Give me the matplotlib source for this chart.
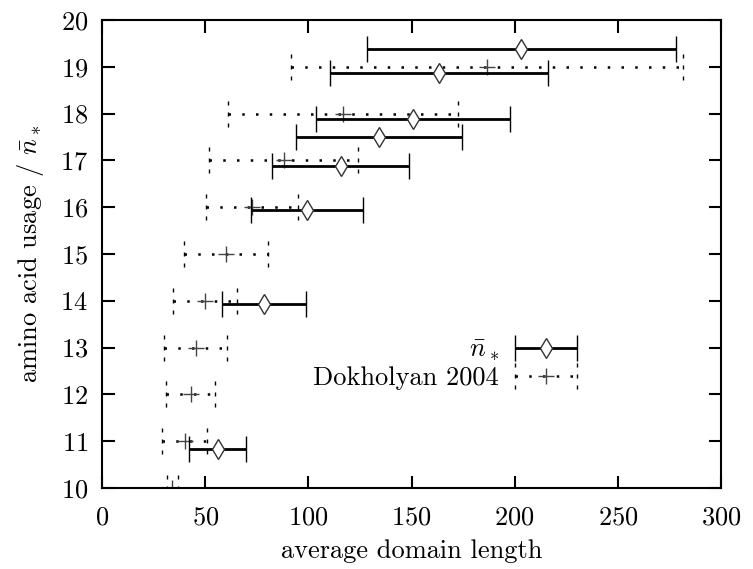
import matplotlib
matplotlib.use("Agg")
import matplotlib.pyplot as plt
import numpy as np
from matplotlib.path import Path
from matplotlib.legend_handler import HandlerErrorbar
from matplotlib.lines import Line2D

# n_bar_* (diamonds, solid error bars)
n_len = [56.0, 78.6, 99.3, 115.6, 134.2, 150.6, 163.3, 203.2]
n_err = [14.0, 20.3, 27.0, 33.0, 40.4, 47.0, 52.7, 75.0]
n_use = [10.83, 13.94, 15.94, 16.87, 17.51, 17.88, 18.86, 19.39]

# Dokholyan 2004 (plus, dotted error bars)
d_len = [34.0, 40.0, 42.9, 45.4, 49.9, 60.0, 72.9, 88.0, 116.9, 186.8]
d_err = [2.7, 11.0, 12.0, 15.4, 15.7, 20.4, 22.3, 36.0, 55.6, 95.0]
d_use = [10, 11, 12, 13, 14, 15, 16, 17, 18, 19]

plt.rcParams['font.family'] = 'cmr10'
plt.rcParams['mathtext.fontset'] = 'cm'
plt.rcParams['axes.formatter.use_mathtext'] = True
fs = 19

# dotted cap marker (three short dashes)
dotcap = Path([(0, -1), (0, -0.72), (0, -0.14), (0, 0.14), (0, 0.72), (0, 1)],
              [Path.MOVETO, Path.LINETO, Path.MOVETO, Path.LINETO, Path.MOVETO, Path.LINETO])

fig = plt.figure(figsize=(7.53, 5.69), dpi=100)
ax = fig.add_axes([102/753, 1-488/569, 619/753, 468/569])

eb1 = ax.errorbar(n_len, n_use, xerr=n_err, fmt='d', color='k', ms=9.9,
                  mfc='white', mec='#333333', mew=1, elinewidth=2,
                  capsize=9.4, capthick=2, label=r'$\bar{n}_*$', zorder=3)

eb2 = ax.errorbar(d_len, d_use, xerr=d_err, fmt='+', color='k', ms=12,
                  mec='#444444', mew=1, elinewidth=1.8,
                  capsize=9.4, capthick=1.8, label='Dokholyan 2004', zorder=2)
eb2[2][0].set_linestyle((0, (1, 4.5)))
for cl in eb2[1]:
    cl.set_marker(dotcap)


class DotCapHandler(HandlerErrorbar):
    def create_artists(self, *args, **kw):
        arts = super().create_artists(*args, **kw)
        for a in arts:
            if isinstance(a, Line2D) and a.get_marker() == '|':
                a.set_marker(dotcap)
        return arts


hl = 62 / (fs * 100 / 72)
leg = ax.legend(handles=[eb1, eb2], loc='center right', bbox_to_anchor=(0.767, 0.265),
                frameon=False, markerfirst=False, fontsize=fs, handlelength=hl,
                handletextpad=0.6, labelspacing=0.1, borderpad=0, borderaxespad=0,
                numpoints=1,
                handler_map={eb1: HandlerErrorbar(xerr_size=hl/2),
                             eb2: DotCapHandler(xerr_size=hl/2)})

ax.set_xlim(0, 300)
ax.set_ylim(10, 20)
ax.set_xticks(np.arange(0, 301, 50))
ax.set_yticks(np.arange(10, 21, 1))
ax.tick_params(direction='in', length=9, width=1.5, top=True, right=True,
               labelsize=fs)
ax.tick_params(axis='x', pad=13)
ax.tick_params(axis='y', pad=10)
for s in ax.spines.values():
    s.set_linewidth(1.5)

ax.set_xlabel('average domain length', fontsize=fs, labelpad=7)
ax.set_ylabel(r'amino acid usage / $\bar{n}_*$', fontsize=fs, labelpad=10)

fig.savefig('out.png', dpi=100)
